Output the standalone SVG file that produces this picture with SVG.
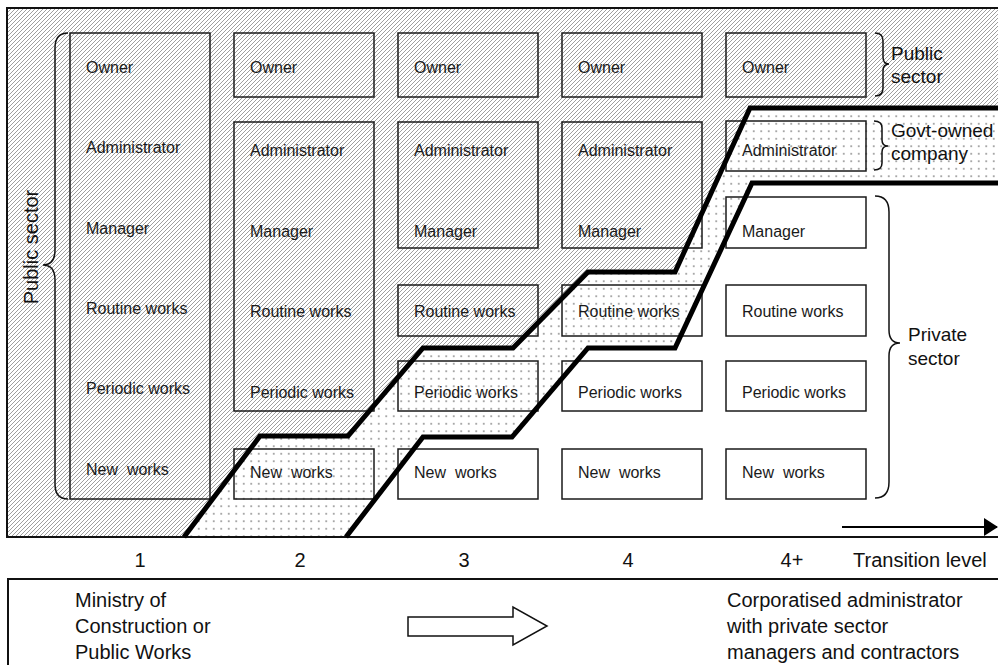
<svg xmlns="http://www.w3.org/2000/svg" width="998" height="665" viewBox="0 0 998 665">
<defs>
<pattern id="hatch" patternUnits="userSpaceOnUse" width="4" height="4">
<path d="M-1,1 l2,-2 M0,4 l4,-4 M3,5 l2,-2" stroke="#8c8c8c" stroke-width="0.85"/>
</pattern>
<pattern id="dots" patternUnits="userSpaceOnUse" width="7.5" height="7.5">
<circle cx="3.75" cy="3.75" r="0.85" fill="#808080"/>
</pattern>
<marker id="arrowhead" markerWidth="14" markerHeight="18" refX="13" refY="9" orient="auto" markerUnits="userSpaceOnUse">
<path d="M0,0 L14,9 L0,18 Z" fill="#000"/>
</marker>
<style>
.box{fill:none;stroke:#1a1a1a;stroke-width:1.5}
.lbl{font-family:"Liberation Sans",Arial,sans-serif;font-size:16px;fill:#1a1a1a}
.big{font-family:"Liberation Sans",Arial,sans-serif;font-size:20px;fill:#111}
.side{font-family:"Liberation Sans",Arial,sans-serif;font-size:19px;fill:#111}
.brace{fill:none;stroke:#111;stroke-width:1.5}
.thick{fill:none;stroke:#000;stroke-width:5;stroke-linejoin:miter}
</style>
</defs>
<rect width="998" height="665" fill="#fff"/>
<g id="background">
<polygon fill="url(#hatch)" points="7,8 1000,8 1000,108 750,108 675,272 588,272 513,348 423,348 348,436 260,436 184,537 7,537"/>
<polygon fill="url(#dots)" points="184,537 260,436 348,436 423,348 513,348 588,272 675,272 750,108 1000,108 1000,183 752,183 675,348 588,348 512,437 423,437 346,537"/>
<rect x="7" y="8" width="1000" height="529" fill="none" stroke="#111" stroke-width="2"/>
</g>
<g id="col1">
<rect class="box" x="70" y="33" width="140" height="466"/>
<text class="lbl" x="86" y="73">Owner</text>
<text class="lbl" x="86" y="153">Administrator</text>
<text class="lbl" x="86" y="234">Manager</text>
<text class="lbl" x="86" y="314">Routine works</text>
<text class="lbl" x="86" y="394">Periodic works</text>
<text class="lbl" x="86" y="475">New&#160;&#160;works</text>
</g>
<g id="col2">
<rect class="box" x="234" y="33" width="140" height="64"/>
<text class="lbl" x="250" y="73">Owner</text>
<rect class="box" x="234" y="122" width="140" height="289"/>
<text class="lbl" x="250" y="156">Administrator</text>
<text class="lbl" x="250" y="237">Manager</text>
<text class="lbl" x="250" y="317">Routine works</text>
<text class="lbl" x="250" y="398">Periodic works</text>
<rect class="box" x="234" y="449" width="140" height="50"/>
<text class="lbl" x="250" y="478">New&#160;&#160;works</text>
</g>
<g id="col3">
<rect class="box" x="398" y="33" width="140" height="64"/>
<text class="lbl" x="414" y="73">Owner</text>
<rect class="box" x="398" y="122" width="140" height="126"/>
<text class="lbl" x="414" y="156">Administrator</text>
<text class="lbl" x="414" y="237">Manager</text>
<rect class="box" x="398" y="285" width="140" height="51"/>
<text class="lbl" x="414" y="317">Routine works</text>
<rect class="box" x="398" y="361" width="140" height="50"/>
<text class="lbl" x="414" y="398">Periodic works</text>
<rect class="box" x="398" y="449" width="140" height="50"/>
<text class="lbl" x="414" y="478">New&#160;&#160;works</text>
</g>
<g id="col4">
<rect class="box" x="562" y="33" width="140" height="64"/>
<text class="lbl" x="578" y="73">Owner</text>
<rect class="box" x="562" y="122" width="140" height="126"/>
<text class="lbl" x="578" y="156">Administrator</text>
<text class="lbl" x="578" y="237">Manager</text>
<rect class="box" x="562" y="285" width="140" height="51"/>
<text class="lbl" x="578" y="317">Routine works</text>
<rect class="box" x="562" y="361" width="140" height="50"/>
<text class="lbl" x="578" y="398">Periodic works</text>
<rect class="box" x="562" y="449" width="140" height="50"/>
<text class="lbl" x="578" y="478">New&#160;&#160;works</text>
</g>
<g id="col5">
<rect class="box" x="726" y="33" width="140" height="64"/>
<text class="lbl" x="742" y="73">Owner</text>
<rect class="box" x="726" y="121" width="140" height="50"/>
<text class="lbl" x="742" y="156">Administrator</text>
<rect class="box" x="726" y="197" width="140" height="51"/>
<text class="lbl" x="742" y="237">Manager</text>
<rect class="box" x="726" y="285" width="140" height="51"/>
<text class="lbl" x="742" y="317">Routine works</text>
<rect class="box" x="726" y="361" width="140" height="50"/>
<text class="lbl" x="742" y="398">Periodic works</text>
<rect class="box" x="726" y="449" width="140" height="50"/>
<text class="lbl" x="742" y="478">New&#160;&#160;works</text>
</g>
<g id="public-sector-left">
<path class="brace" d="M68,33 Q55,33 55,48 L55,250 Q55,265 43,265 Q55,265 55,280 L55,484 Q55,499 68,499"/>
<text class="big" transform="translate(38,247) rotate(-90)" text-anchor="middle">Public sector</text>
</g>
<g id="public-sector-right">
<path class="brace" d="M875,33 Q883,33 883,41 L883,57 Q883,64 889,64 Q883,64 883,71 L883,88 Q883,96 875,96"/>
<text class="side" x="891" y="60">Public</text>
<text class="side" x="891" y="83">sector</text>
</g>
<g id="govt-owned">
<path class="brace" d="M874,121 Q882,121 882,128 L882,140 Q882,146 888,146 Q882,146 882,152 L882,163 Q882,170 874,170"/>
<text class="side" x="891" y="137">Govt-owned</text>
<text class="side" x="891" y="160">company</text>
</g>
<g id="private-sector">
<path class="brace" d="M875,196 Q889,196 889,212 L889,330 Q889,343 900,343 Q889,343 889,356 L889,482 Q889,498 875,498"/>
<text class="side" x="908" y="341">Private</text>
<text class="side" x="908" y="365">sector</text>
</g>
<g id="connectors">
<polyline class="thick" points="184,537 260,436 348,436 423,348 513,348 588,272 675,272 750,108 1000,108"/>
<polyline class="thick" points="346,537 423,437 512,437 588,348 675,348 752,183 1000,183"/>
<line x1="842" y1="527" x2="997" y2="527" stroke="#000" stroke-width="2" marker-end="url(#arrowhead)"/>
<polygon points="408,617 513,617 513,607 547,626 513,645 513,636 408,636" fill="#fff" stroke="#111" stroke-width="1.5"/>
</g>
<g id="axis">
<text class="big" x="140" y="567" text-anchor="middle">1</text>
<text class="big" x="300" y="567" text-anchor="middle">2</text>
<text class="big" x="464" y="567" text-anchor="middle">3</text>
<text class="big" x="628" y="567" text-anchor="middle">4</text>
<text class="big" x="792" y="567" text-anchor="middle">4+</text>
<text class="big" x="853" y="567">Transition level</text>
</g>
<g id="bottom-box">
<rect x="8" y="579" width="1000" height="100" fill="none" stroke="#111" stroke-width="2"/>
<text class="big" x="75" y="607">Ministry of</text>
<text class="big" x="75" y="633">Construction or</text>
<text class="big" x="75" y="659">Public Works</text>
<text class="big" x="727" y="607">Corporatised administrator</text>
<text class="big" x="727" y="633">with private sector</text>
<text class="big" x="727" y="659">managers and contractors</text>
</g>
</svg>
